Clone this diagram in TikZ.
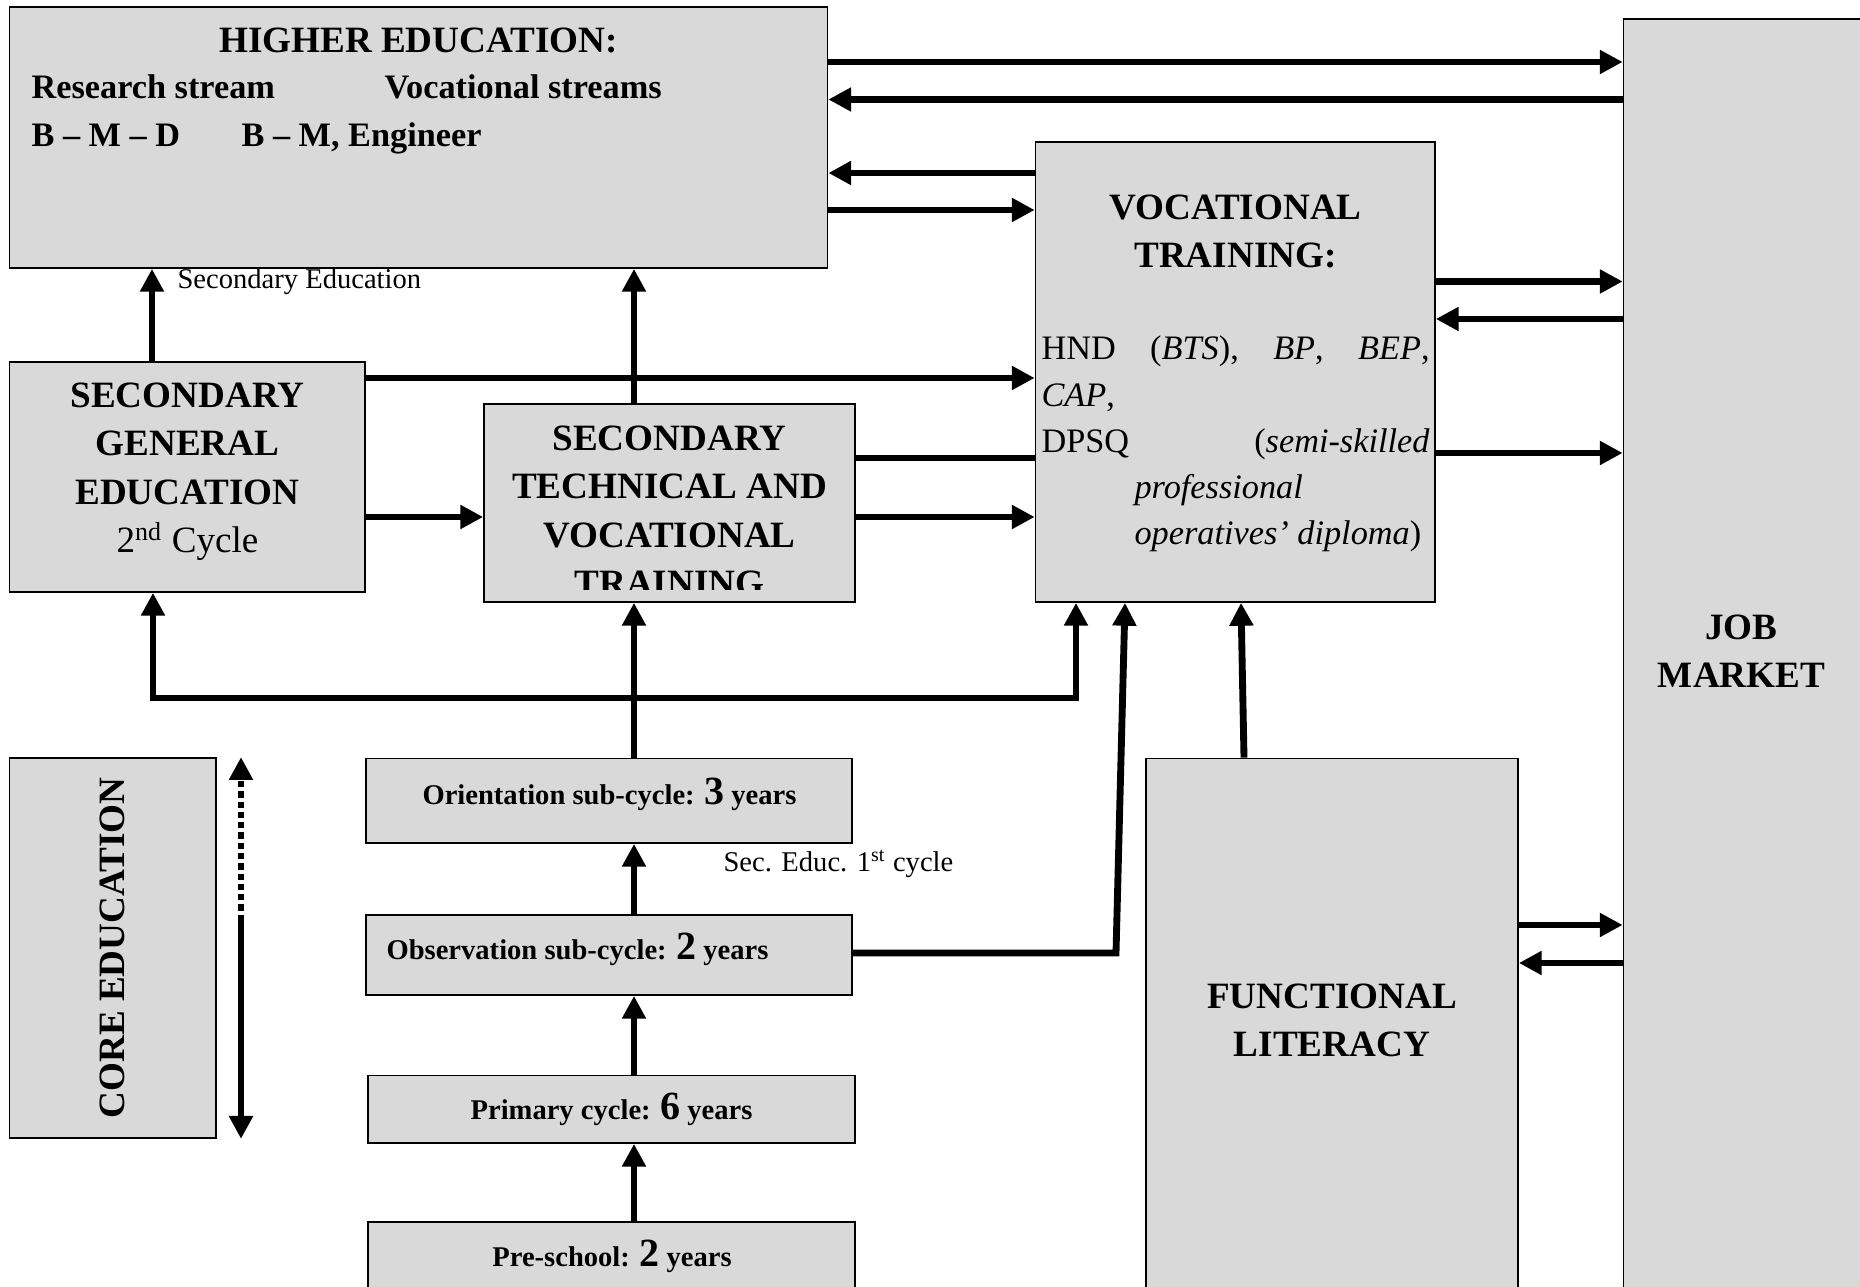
\documentclass[tikz,border=0pt]{standalone}
\usepackage{fontspec}
\setmainfont{Liberation Serif}
\usetikzlibrary{arrows.meta,fit}
\definecolor{boxgray}{RGB}{217,217,217}
\begin{document}
\begin{tikzpicture}[x=0.35pt,y=-0.35pt,
  box/.style={draw,line width=0.6pt,fill=boxgray,inner sep=0pt},
  big/.style={font=\fontsize{13}{17}\selectfont\bfseries,align=center,inner sep=0pt},
  mid/.style={font=\fontsize{12}{16}\selectfont\bfseries,inner sep=0pt},
  body/.style={font=\fontsize{12}{16}\selectfont,inner sep=0pt},
  small/.style={font=\fontsize{10}{12}\selectfont\bfseries,inner sep=0pt},
  note/.style={font=\fontsize{10}{12}\selectfont,inner sep=0pt},
  ln/.style={line width=2.4pt},
  arr/.style={line width=2.4pt,-{Triangle[length=8pt,width=8pt]}}]
\useasboundingbox (0,0) rectangle (1860,1287);
\clip (0,0) rectangle (1860,1287);
\node[box,fit={(9.5,7) (827.5,268)}] (he) {};
\node[box,fit={(1623.5,19) (1875,1300)}] (jm) {};
\node[box,fit={(1035.5,142) (1435,602)}] (vt) {};
\node[box,fit={(9.5,362) (365,592)}] (sge) {};
\node[box,fit={(484,404) (855,602)}] (stvt) {};
\node[box,fit={(9.5,758) (216,1138)}] (core) {};
\node[box,fit={(366,758.5) (852,843)}] (ori) {};
\node[box,fit={(366,915) (852,995)}] (obs) {};
\node[box,fit={(368,1075.5) (855,1143)}] (pri) {};
\node[box,fit={(368,1222) (855,1300)}] (pre) {};
\node[box,fit={(1146,758.5) (1518,1300)}] (fl) {};
\node[big,anchor=base] (hetitle) at (418.5,53) {HIGHER EDUCATION:};
\node[mid,anchor=base west] (research) at (31,99) {Research stream};
\node[mid,anchor=base west] (vocstreams) at (384,99) {Vocational streams};
\node[mid,anchor=base west] (bmd) at (31,147) {B -- M -- D};
\node[mid,anchor=base west] (bme) at (241,147) {B -- M, Engineer};
\node[big,anchor=base] (vttitle) at (1235.5,268) {VOCATIONAL\\TRAINING:};
\node[body,anchor=base west] (vtline1) at (1041,360) {\makebox[135.8pt][s]{HND (\textit{BTS}), \textit{BP}, \textit{BEP},}};
\node[body,anchor=base west] (vtline2) at (1041,407) {\textit{CAP},};
\node[body,anchor=base west] (vtline3) at (1041,453) {\makebox[135.8pt][s]{DPSQ (\textit{semi-skilled}}};
\node[body,anchor=base west] (vtline4) at (1134,499) {\textit{professional}};
\node[body,anchor=base west] (vtline5) at (1134,545) {\textit{operatives' diploma})};
\node[big,anchor=base] (jmtext) at (1741.5,688) {JOB\\MARKET};
\node[big,anchor=base] (sgetext) at (187.5,553) {SECONDARY\\GENERAL\\EDUCATION\\\mdseries 2\textsuperscript{nd} Cycle};
\begin{scope}
\clip (stvt.north west) rectangle (stvt.east |- 0,590);
\node[big,anchor=base] (stvttext) at (669.5,596) {SECONDARY\\TECHNICAL AND\\VOCATIONAL\\TRAINING};
\end{scope}
\node[big,rotate=90] (coretext) at (core.center) {CORE EDUCATION};
\node[big,anchor=base] (fltext) at (1332,1057) {FUNCTIONAL\\LITERACY};
\node[small,anchor=base] (oritext) at (609.5,804.5) {Orientation sub-cycle: {\fontsize{14}{14}\selectfont 3} years};
\node[small,anchor=base west] (obstext) at (386,960) {Observation sub-cycle: {\fontsize{14}{14}\selectfont 2} years};
\node[small,anchor=base] (pritext) at (611.5,1119.5) {Primary cycle: {\fontsize{14}{14}\selectfont 6} years};
\node[small,anchor=base] (pretext) at (612,1266.5) {Pre-school: {\fontsize{14}{14}\selectfont 2} years};
\node[note,anchor=base west] (seclabel) at (177,289) {Secondary Education};
\node[note,anchor=base west] (sec1label) at (723,872) {Sec. Educ. 1\textsuperscript{st} cycle};
\draw[arr] (he.east |- 0,62) -- (jm.west |- 0,62);
\draw[arr] (jm.west |- 0,99.5) -- (he.east |- 0,99.5);
\draw[arr] (vt.west |- 0,173) -- (he.east |- 0,173);
\draw[arr] (he.east |- 0,210) -- (vt.west |- 0,210);
\draw[arr] (vt.east |- 0,281.5) -- (jm.west |- 0,281.5);
\draw[arr] (jm.west |- 0,319) -- (vt.east |- 0,319);
\draw[arr] (vt.east |- 0,453) -- (jm.west |- 0,453);
\draw[arr] (fl.east |- 0,925) -- (jm.west |- 0,925);
\draw[arr] (jm.west |- 0,963) -- (fl.east |- 0,963);
\draw[arr] (sge.north -| 152,0) -- (he.south -| 152,0);
\draw[arr] (stvt.north -| 634,0) -- (he.south -| 634,0);
\draw[arr] (sge.east |- 0,378) -- (vt.west |- 0,378);
\draw[arr] (sge.east |- 0,517) -- (stvt.west |- 0,517);
\draw[ln] (stvt.east |- 0,458) -- (vt.west |- 0,458);
\draw[arr] (stvt.east |- 0,517) -- (vt.west |- 0,517);
\coordinate (fork) at (634,698);
\draw[arr] (ori.north -| fork) -- (stvt.south -| fork);
\draw[arr] (fork) -| (sge.south -| 153,0);
\draw[arr] (fork) -| (vt.south -| 1076,0);
\draw[arr] (obs.north -| fork) -- (ori.south -| fork);
\draw[arr] (pri.north -| fork) -- (obs.south -| fork);
\draw[arr] (pre.north -| fork) -- (pri.south -| fork);
\draw[arr] (obs.east |- 0,953) -- (1116,953) -- (vt.south -| 1125,0);
\draw[arr] (fl.north -| 1244,0) -- (vt.south -| 1241,0);
\coordinate (coremid) at (241,921);
\draw[arr,dash pattern=on 2.2pt off 1.4pt] (coremid) -- (core.north -| coremid);
\draw[arr] (coremid) -- (core.south -| coremid);
\end{tikzpicture}
\end{document}
